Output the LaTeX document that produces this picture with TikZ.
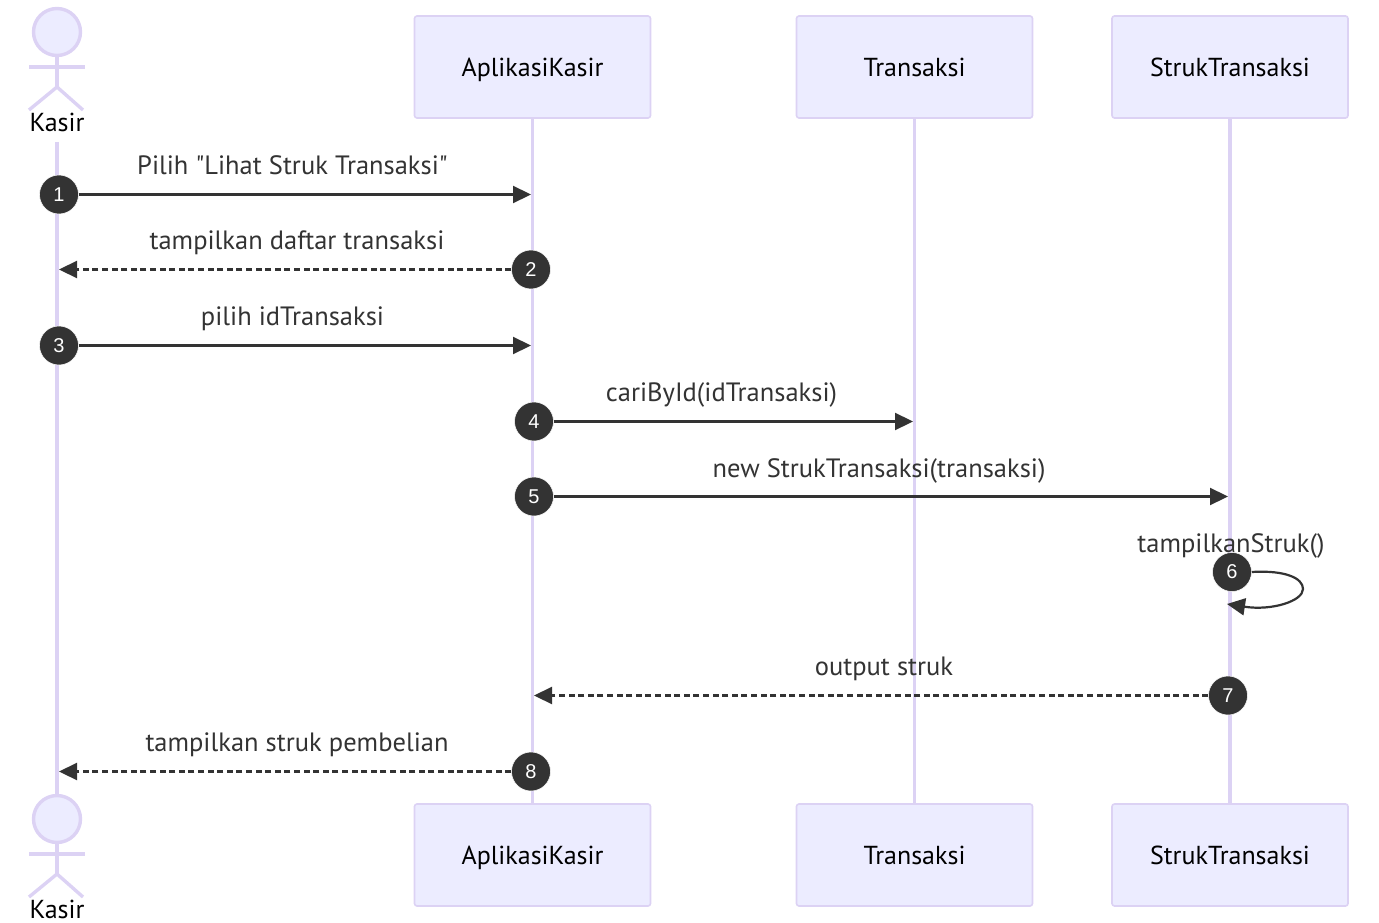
\documentclass[tikz,border=0pt]{standalone}
\usepackage{fontspec}
\setmainfont{PT Sans}[Ligatures=TeXOff]
\setsansfont{Liberation Sans}
\usetikzlibrary{arrows.meta,backgrounds}
\definecolor{actorfill}{HTML}{ECECFF}
\definecolor{actorline}{HTML}{DCD2F4}
\definecolor{msgcolor}{HTML}{333333}
\begin{document}
\begin{tikzpicture}[x=1pt,y=-1pt]
       \tikzstyle{boxnode}=[draw=actorline, fill=actorfill, line width=1.6pt, rounded corners=2.5pt, minimum width=236pt, minimum height=102pt, inner sep=0pt, text height=24pt, text depth=5pt, font=\fontsize{26}{30}\selectfont, text=black]
       \tikzstyle{headnode}=[circle, draw=actorline, fill=actorfill, line width=3.4pt, minimum size=47pt, inner sep=0pt]
       \tikzstyle{actorlabel}=[inner sep=0pt, text height=24pt, text depth=5pt, font=\fontsize{26}{30}\selectfont, text=black]
       \tikzstyle{limb}=[draw=actorline, line width=3.4pt]
       \tikzstyle{lifeline}=[draw=actorline, line width=3.4pt]
       \tikzstyle{numnode}=[circle, fill=msgcolor, draw=white, line width=0.5pt, minimum size=39pt, inner sep=0pt, text=white, font=\fontsize{20}{24}\selectfont\sffamily]
       \tikzstyle{msglabel}=[inner sep=0pt, text height=24pt, text depth=5pt, text=msgcolor, font=\fontsize{26.5}{30}\selectfont]
       \tikzstyle{msg}=[draw=msgcolor, line width=2.2pt, -{Triangle[length=18pt,width=17pt]}]
       \tikzstyle{reply}=[msg, dash pattern=on 6pt off 3.6pt]
       \useasboundingbox (0,0) rectangle (1379,923);
       % participants
       \node[boxnode] (kasirapp) at (532.5,67) {AplikasiKasir};
       \node[boxnode] (trans) at (914.5,67) {Transaksi};
       \node[boxnode] (struk) at (1230,67) {StrukTransaksi};
       \node[boxnode] (kasirappB) at (532.5,855) {AplikasiKasir};
       \node[boxnode] (transB) at (914.5,855) {Transaksi};
       \node[boxnode] (strukB) at (1230,855) {StrukTransaksi};
       % actor, top and bottom
       \foreach \name/\dy in {top/0,bot/787}{
        \node[headnode] (head\name) at (57,32+\dy) {};
        \coordinate (arml\name) at (29,67+\dy);
        \coordinate (armr\name) at (85,67+\dy);
        \coordinate (hip\name) at (57,87+\dy);
        \coordinate (legl\name) at (29,110+\dy);
        \coordinate (legr\name) at (83,110+\dy);
        \draw[limb] (head\name) -- (hip\name);
        \draw[limb] (arml\name) -- (armr\name);
        \draw[limb] (legl\name) -- (hip\name) -- (legr\name);
       }
       \node[actorlabel] (kasirtop) at (57,122) {Kasir};
       \node[actorlabel] (kasirbot) at (57,909) {Kasir};
       \coordinate (lifestart) at (57,142);
       % lifelines
       \begin{scope}[on background layer]
        \draw[lifeline] (lifestart) -- (headbot);
        \draw[lifeline] (kasirapp) -- (kasirappB);
        \draw[lifeline] (trans) -- (transB);
        \draw[lifeline] (struk) -- (strukB);
       \end{scope}
       % arrow ends
       \coordinate (end1) at (531,194.5);
       \coordinate (end2) at (59,269.5);
       \coordinate (end3) at (531,345.5);
       \coordinate (end4) at (913,421.5);
       \coordinate (end5) at (1228,496.5);
       \coordinate (end6) at (1227,604);
       \coordinate (end7) at (534,695.5);
       \coordinate (end8) at (59,771.5);
       % messages
       \node[numnode] (num1) at (59,194.5) {1};
       \node[numnode] (num2) at (531,269.5) {2};
       \node[numnode] (num3) at (59,345.5) {3};
       \node[numnode] (num4) at (534,421.5) {4};
       \node[numnode] (num5) at (534,496.5) {5};
       \node[numnode] (num6) at (1232,572) {6};
       \node[numnode] (num7) at (1228,695.5) {7};
       \node[numnode] (num8) at (531,771.5) {8};
       \draw[msg] (num1) -- (end1);
       \draw[reply] (num2) -- (end2);
       \draw[msg] (num3) -- (end3);
       \draw[msg] (num4) -- (end4);
       \draw[msg] (num5) -- (end5);
       \draw[msg] (num6.east) .. controls (1285,570) and (1303,578) .. (1303,589)
        .. controls (1303,601) and (1272,611) .. (end6);
       \draw[reply] (num7) -- (end7);
       \draw[reply] (num8) -- (end8);
       \node[msglabel] (lab1) at (292.5,165) {Pilih "Lihat Struk Transaksi"};
       \node[msglabel] (lab2) at (297,240) {tampilkan daftar transaksi};
       \node[msglabel] (lab3) at (292.5,316) {pilih idTransaksi};
       \node[msglabel] (lab4) at (721.5,392) {cariById(idTransaksi)};
       \node[msglabel] (lab5) at (879,468) {new StrukTransaksi(transaksi)};
       \node[msglabel] (lab6) at (1231,543) {tampilkanStruk()};
       \node[msglabel] (lab7) at (884,666) {output struk};
       \node[msglabel] (lab8) at (297,742) {tampilkan struk pembelian};
      \end{tikzpicture}
\end{document}
